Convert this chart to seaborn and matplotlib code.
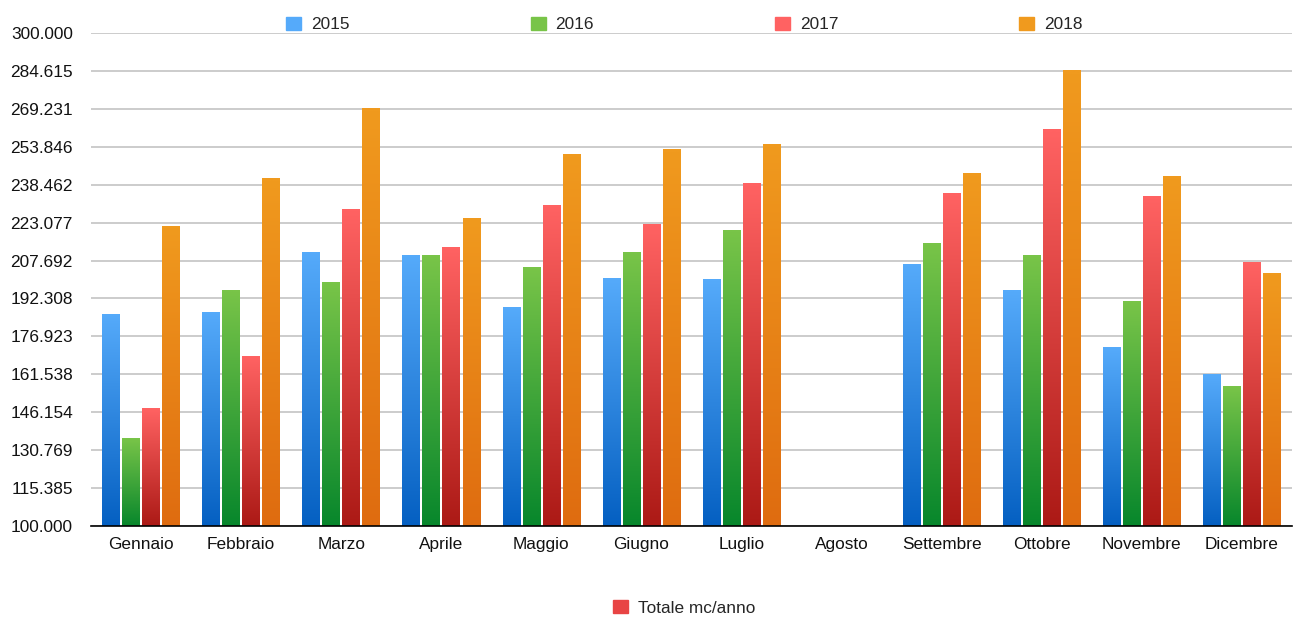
import numpy as np
import pandas as pd
import matplotlib
matplotlib.use("Agg")
import matplotlib.pyplot as plt
from matplotlib.patches import Rectangle
from matplotlib.colors import to_rgb
import seaborn as sns

sns.set_theme(style="white")
plt.rcParams['font.family'] = ['Liberation Sans', 'DejaVu Sans']

# Data (mc per month)
mesi = ["Gennaio", "Febbraio", "Marzo", "Aprile", "Maggio", "Giugno", "Luglio",
        "Agosto", "Settembre", "Ottobre", "Novembre", "Dicembre"]
anni = ["2015", "2016", "2017", "2018"]
v2015 = [185600, 186800, 210800, 209600, 188800, 200600, 199800, np.nan, 205900, 195700, 172600, 161600]
v2016 = [135600, 195700, 198600, 209600, 204700, 210800, 219700, np.nan, 214800, 209600, 190900, 156700]
v2017 = [147800, 168900, 228600, 212800, 229900, 222500, 238800, np.nan, 234700, 260700, 233500, 206700]
v2018 = [221700, 240800, 269300, 224600, 250600, 252600, 254600, np.nan, 242900, 284700, 241600, 202600]

# top / bottom colours of each gradient
grad = {
    "2015": ("#55AAFA", "#0560C2"),
    "2016": ("#78C448", "#08872C"),
    "2017": ("#FF6262", "#AC1A16"),
    "2018": ("#F09A1E", "#DF6C10"),
}

df = pd.DataFrame({
    "Mese": mesi * 4,
    "Anno": sum([[a] * 12 for a in anni], []),
    "Valore": v2015 + v2016 + v2017 + v2018,
})

ymin, ymax = 100000, 300000
fs = 12.4

fig = plt.figure(figsize=(12.93, 6.17), dpi=100)
ax = fig.add_axes([91 / 1293, 1 - 526 / 617, 1201 / 1293, 493 / 617])

palette = {a: grad[a][0] for a in anni}
sns.barplot(data=df, x="Mese", y="Valore", hue="Anno", palette=palette,
            width=0.8, ax=ax, legend=False)

# replace flat bars by vertical gradients
for cont, anno in zip(ax.containers, anni):
    top, bot = np.array(to_rgb(grad[anno][0])), np.array(to_rgb(grad[anno][1]))
    t = np.linspace(0, 1, 64)[:, None]
    img = (top * (1 - t) + bot * t)[:, None, :]
    for bar in cont:
        h = bar.get_height()
        bar.set_visible(False)
        if np.isnan(h):
            continue
        x0 = bar.get_x()
        w = bar.get_width()
        ax.imshow(img, extent=[x0 + 0.012, x0 + w - 0.012, ymin, h],
                  aspect="auto", interpolation="bilinear", zorder=3)

ax.set_xlim(-0.5, 11.5)
ax.set_ylim(ymin, ymax)
ticks = np.linspace(ymin, ymax, 14)
ax.set_yticks(ticks)
ax.set_yticklabels([f"{v:,.0f}".replace(",", ".") for v in ticks])
ax.yaxis.grid(True, color="#C4C4C4", linewidth=1.2, zorder=0)
ax.set_axisbelow(True)
ax.set_xlabel("")
ax.set_ylabel("")
for s in ["left", "right", "top"]:
    ax.spines[s].set_visible(False)
ax.spines["bottom"].set_color("black")
ax.spines["bottom"].set_linewidth(1.2)
ax.spines["bottom"].set_zorder(5)
ax.tick_params(axis="y", length=0, pad=13, labelsize=fs, labelcolor="#111111")
ax.tick_params(axis="x", length=0, pad=8, labelsize=fs, labelcolor="#111111")

# top legend
handles = [Rectangle((0, 0), 1, 1, color=grad[a][0]) for a in anni]
fig.legend(handles, anni, loc="center", bbox_to_anchor=(0.5294, 0.9605), ncol=4,
           frameon=False, fontsize=fs, handlelength=0.87, handleheight=0.81,
           handletextpad=0.58, columnspacing=10.5)

# bottom legend
fig.legend([Rectangle((0, 0), 1, 1, color="#E84444")], ["Totale mc/anno"],
           loc="center", bbox_to_anchor=(0.529, 0.0146), frameon=False,
           fontsize=fs, handlelength=0.87, handleheight=0.81, handletextpad=0.58)

fig.savefig("out.png", dpi=100)
